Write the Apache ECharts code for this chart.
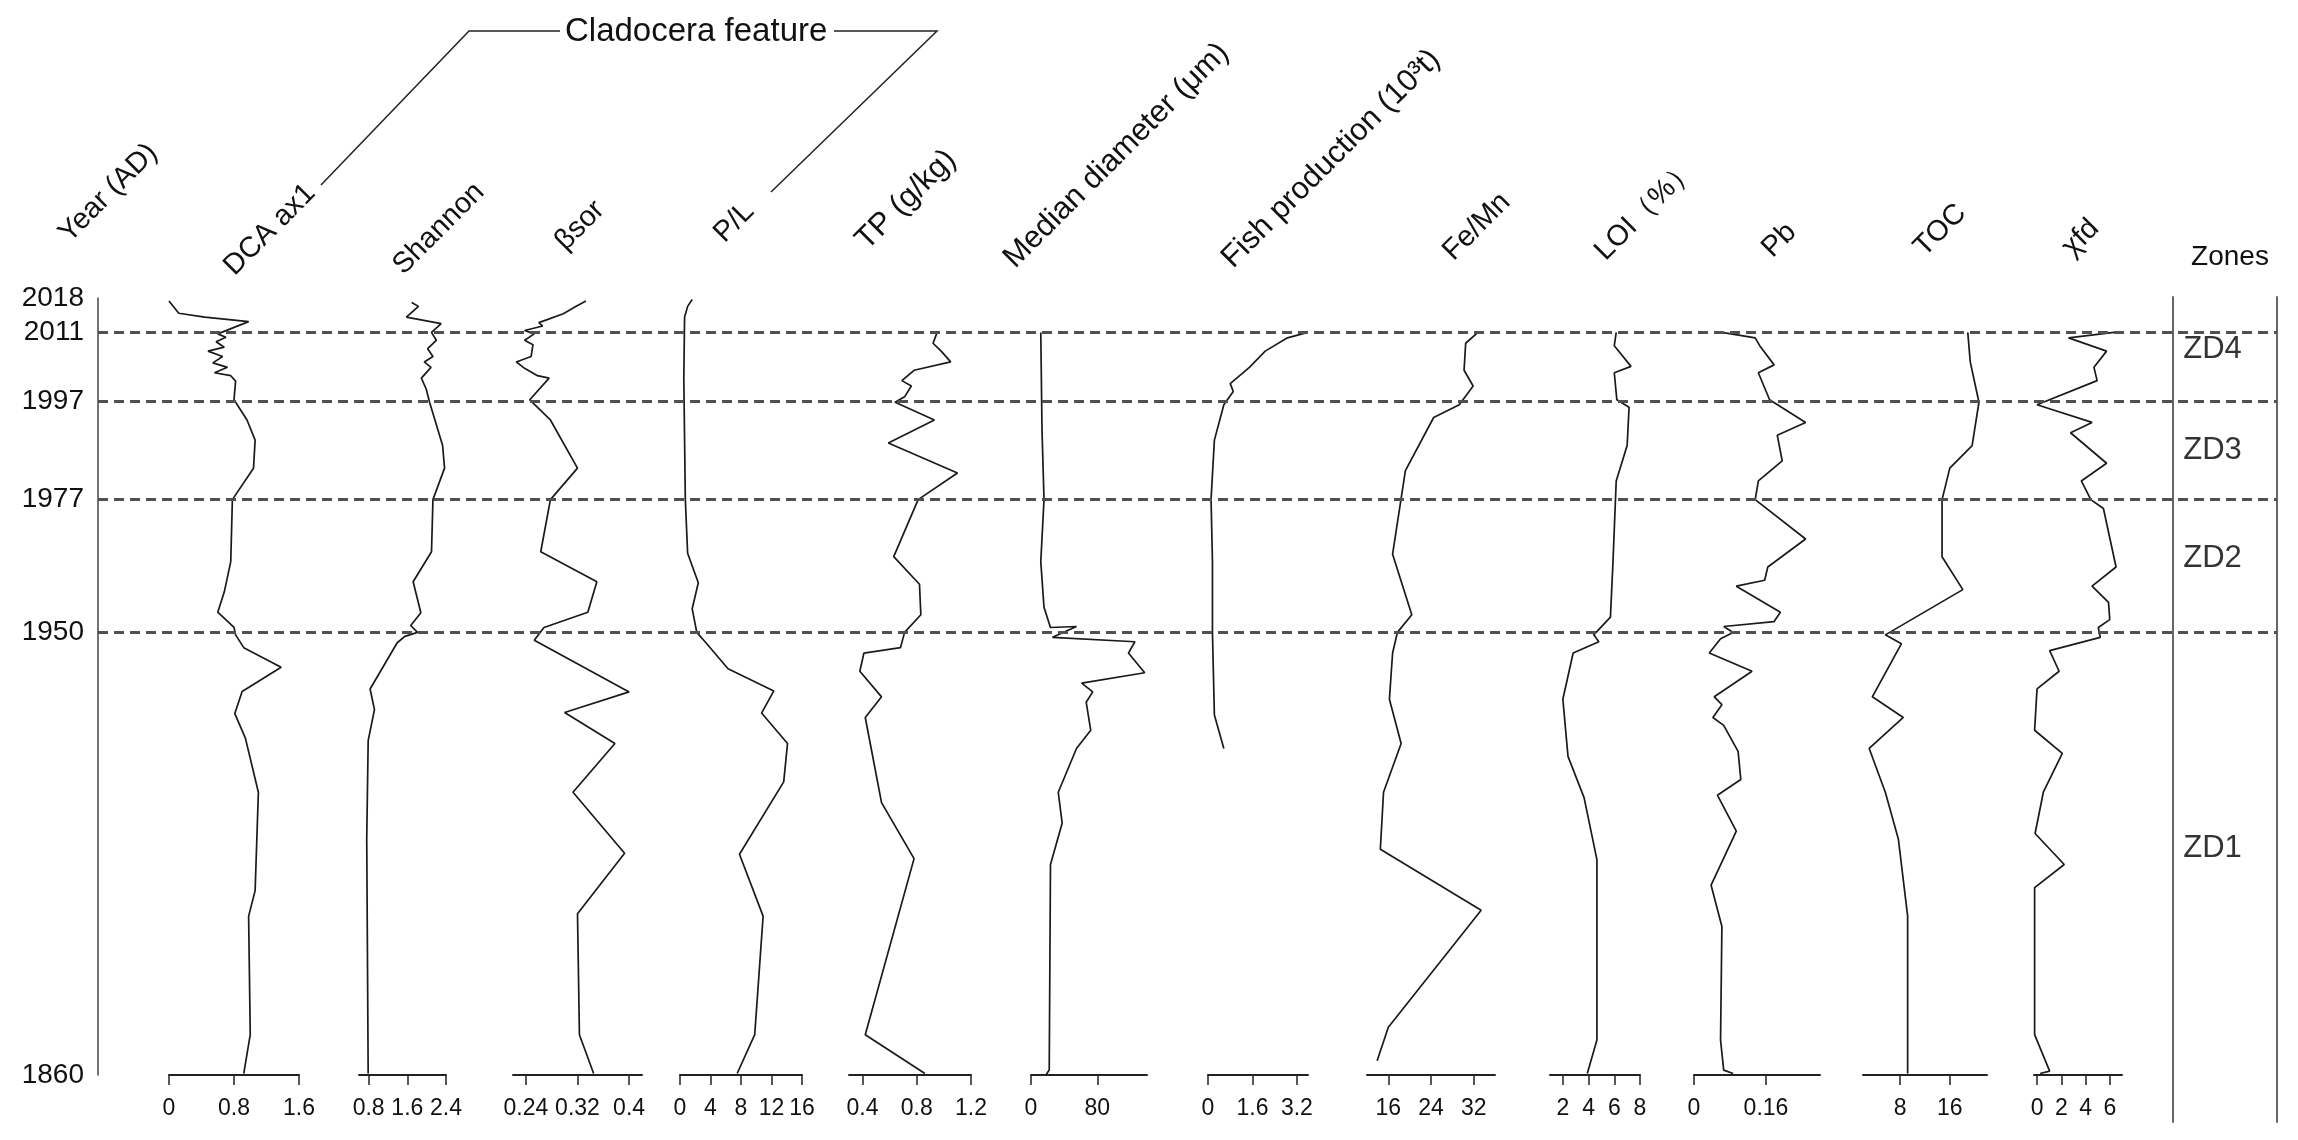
<!DOCTYPE html>
<html>
<head>
<meta charset="utf-8">
<script src="https://cdn.jsdelivr.net/npm/echarts@6/dist/echarts.min.js"></script>
<style>
  html, body { margin: 0; padding: 0; background: #fff; }
  #chart { width: 2298px; height: 1140px; }
</style>
</head>
<body>
<div id="chart"></div>
<script>
(function () {
  "use strict";

  /* ---- Data: [value, year AD] ---- */
  const yearTicks = [1860, 1950, 1977, 1997, 2011, 2018];
  const zoneBounds = [2011, 1997, 1977, 1950];
  const zoneNames = ["ZD4", "ZD3", "ZD2", "ZD1"];
  const zoneLabelYears = [2007.5, 1987, 1965, 1906];

  const dcaAx1 = [[0,2017.4],[0.12,2014.9],[0.44,2014.1],[0.98,2013.2],[0.6,2010.7],[0.7,2010.0],[0.58,2009.1],[0.68,2008.0],[0.48,2007.2],[0.66,2006.1],[0.54,2004.8],[0.72,2003.9],[0.56,2002.8],[0.76,2002.2],[0.82,2001.1],[0.8,1997.3],[0.84,1996.3],[0.96,1993.2],[1.06,1989.1],[1.04,1983.4],[0.78,1977],[0.76,1964.4],[0.68,1958.2],[0.6,1954.1],[0.8,1951.0],[0.82,1949.5],[0.92,1946.9],[1.38,1942.9],[0.9,1938],[0.81,1933.5],[0.94,1928.5],[1.1,1917.5],[1.06,1897.5],[0.98,1892.3],[1.0,1868.2],[0.92,1860.3]];
  const shannon = [[1.69,2017.1],[1.83,2016.3],[1.58,2014.1],[2.3,2012.8],[2.1,2011],[2.2,2009.4],[2.02,2007.7],[2.13,2006.1],[1.95,2005.0],[2.09,2003.9],[1.89,2001.7],[1.99,1999.5],[2.06,1996.8],[2.33,1988.0],[2.37,1983.4],[2.13,1977],[2.1,1966.4],[1.72,1960.3],[1.88,1954.0],[1.67,1951.4],[1.81,1950],[1.55,1949.2],[1.39,1947.9],[0.83,1938.5],[0.92,1934.3],[0.79,1928.0],[0.76,1908],[0.79,1860.3]];
  const betaSor = [[0.333,2017.4],[0.318,2016.3],[0.298,2014.8],[0.273,2013.6],[0.26,2013.0],[0.266,2012.3],[0.238,2011.4],[0.253,2010.7],[0.238,2009.4],[0.251,2008.5],[0.248,2006.1],[0.225,2005.0],[0.238,2003.7],[0.258,2002.2],[0.276,2001.7],[0.246,1997.3],[0.278,1993.2],[0.32,1983.4],[0.278,1977],[0.263,1966.4],[0.35,1960.3],[0.336,1954.1],[0.268,1951.0],[0.253,1948.4],[0.4,1937.9],[0.3,1933.7],[0.378,1927.4],[0.313,1917.5],[0.393,1905.1],[0.32,1892.8],[0.323,1868.2],[0.345,1860.3]];
  const pl = [[1.6,2017.7],[1.0,2016.3],[0.6,2014.1],[0.5,2001.7],[0.7,1977],[1.0,1966.1],[2.4,1960.1],[1.6,1954.8],[2.2,1950],[3.4,1947.9],[6.3,1942.6],[12.3,1938.1],[10.7,1933.6],[14.1,1927.4],[13.6,1919.6],[7.8,1904.9],[10.9,1892.3],[9.8,1868.2],[7.5,1860.3]];
  const tp = [[0.95,2011],[0.92,2008.8],[0.98,2007.2],[1.05,2005.0],[0.78,2003.3],[0.69,2001.2],[0.76,2000.1],[0.71,1997.9],[0.64,1996.8],[0.93,1993.2],[0.59,1988.5],[1.1,1982.4],[0.81,1977],[0.63,1965.4],[0.82,1959.8],[0.83,1953.6],[0.71,1950],[0.68,1946.9],[0.41,1945.8],[0.38,1942.1],[0.54,1936.9],[0.42,1932.7],[0.54,1915.4],[0.78,1904.0],[0.42,1868.2],[0.86,1860.3]];
  const medianDiam = [[11.8,2011],[13.3,1991.1],[15.7,1977],[11.8,1964.4],[15.7,1955.1],[23.5,1951.0],[54.9,1951.2],[25.9,1949.0],[125.4,1948.1],[117.6,1945.8],[137.2,1941.8],[61.2,1939.7],[74.5,1937.9],[66.6,1935.8],[72.1,1930.1],[54.9,1926.4],[32.9,1917.5],[37.6,1911.2],[23.5,1902.8],[22.0,1861],[18,1860]];
  const fishProd = [[3.59,2011],[2.86,2009.9],[2.06,2007.2],[1.49,2003.9],[0.8,2000.6],[0.91,1999.0],[0.57,1996.3],[0.23,1989.1],[0.11,1977],[0.16,1964.4],[0.16,1950],[0.23,1933.2],[0.57,1926.4]];
  const feMn = [[32.8,2011],[30.5,2008.8],[30.2,2003.3],[31.9,2000.1],[29.3,1996.3],[24.5,1993.7],[19.2,1982.9],[16.8,1965.9],[20.4,1953.6],[17.7,1950],[16.8,1945.8],[16.2,1936.4],[18.4,1927.4],[15.1,1917.5],[14.5,1905.9],[33.4,1893.5],[16.0,1869.7],[13.9,1862.9]];
  const loi = [[6.15,2011],[6.0,2008.3],[7.3,2004.1],[6.0,2002.8],[6.2,1997.3],[7.15,1995.8],[7.0,1988.0],[6.15,1980.8],[5.9,1964.4],[5.7,1953.1],[4.4,1949.5],[4.8,1948.1],[2.8,1945.8],[2.0,1936.4],[2.4,1924.8],[3.65,1916.4],[4.65,1903.8],[4.65,1867.1],[3.9,1860.3]];
  const pb = [[0.062,2011],[0.136,2009.9],[0.146,2008.3],[0.178,2004.4],[0.143,2002.8],[0.168,1997.3],[0.248,1992.7],[0.185,1990.1],[0.196,1984.9],[0.143,1980.8],[0.136,1977],[0.248,1969.0],[0.164,1963.3],[0.157,1960.6],[0.094,1959.4],[0.192,1954.1],[0.178,1952.2],[0.066,1951.2],[0.087,1950],[0.059,1948.7],[0.034,1945.8],[0.129,1942.1],[0.045,1936.9],[0.062,1935.3],[0.042,1932.7],[0.066,1931.1],[0.098,1925.8],[0.104,1920.1],[0.052,1916.9],[0.094,1909.6],[0.038,1898.6],[0.062,1890.2],[0.059,1867.1],[0.066,1861.0],[0.087,1860.3]];
  const toc = [[18.9,2011],[19.3,2005.0],[20.7,1996.8],[19.6,1988.0],[16.0,1983.4],[14.75,1977],[14.75,1965.4],[18.1,1958.7],[5.6,1949.5],[8.2,1947.7],[3.5,1936.9],[8.5,1932.7],[3.0,1926.4],[5.6,1917.5],[7.7,1908.0],[9.2,1892.3],[9.2,1860.3]];
  const xfd = [[6.35,2011],[2.6,2009.9],[5.73,2007.2],[4.69,2003.9],[4.95,2001.2],[0.0,1996.3],[4.53,1992.7],[2.76,1990.6],[5.73,1984.4],[3.65,1980.8],[4.43,1977],[5.47,1975.2],[6.51,1963.3],[4.53,1959.4],[5.89,1956.1],[5.99,1952.6],[5.05,1951.0],[5.21,1949.0],[1.04,1946.3],[1.82,1942.1],[0,1938.5],[-0.2,1930.1],[2.08,1925.4],[0.52,1917.5],[-0.16,1909.1],[2.24,1902.8],[-0.2,1898.1],[-0.2,1868.2],[1.04,1860.8],[0.26,1860.3]];

  const panelNames = ["DCA ax1", "Shannon", "βsor", "P/L", "TP (g/kg)", "Median diameter (μm)", "Fish production (10³t)", "Fe/Mn", "LOI（%）", "Pb", "TOC", "χfd"];
  const panelSeries = [dcaAx1, shannon, betaSor, pl, tp, medianDiam, fishProd, feMn, loi, pb, toc, xfd];
  const panelTicks = [[0,0.8,1.6],[0.8,1.6,2.4],[0.24,0.32,0.4],[0,4,8,12,16],[0.4,0.8,1.2],[0,80],[0,1.6,3.2],[16,24,32],[2,4,6,8],[0,0.16],[8,16],[0,2,4,6]];
  const panelRange = [[0,1.6],[0.6,2.4],[0.22,0.42],[0,16],[0.3,1.2],[0,140],[0,3.6],[12,36],[1,8],[0,0.28],[2,22],[-0.25,7]];

  /* ---- Layout ---- */
  const TOP = 298, BOTTOM = 65;
  const FRAME_LEFT = 98, FRAME_RIGHT = 2277;
  const ZONE_LEFT = 2173;
  const panelLeft = [169, 359, 513, 680, 849, 1031, 1208, 1367, 1550, 1694, 1863, 2034];
  const panelWidth = [130, 87, 129, 122, 122, 116, 100, 128, 90, 126, 124, 88];
  const headerAt = [[239,281],[408,280],[570,256],[729,248],[872,256],[1020,274],[1238,274],[1458,266],[1610,266],[1777,263],[1929,262],[2077,262]];
  const headerSize = [29, 29, 29, 29, 31, 31, 31, 29, 29, 29, 29, 29];

  const FONT = "'Liberation Sans', Arial, sans-serif";
  const INK = "#1a1a1a";
  const YEAR_MIN = 1860, YEAR_MAX = 2018;

  const hiddenY = (gi) => ({ type: "value", gridIndex: gi, min: YEAR_MIN, max: YEAR_MAX, show: false });
  const hiddenX = (gi) => ({ type: "value", gridIndex: gi, min: 0, max: 1, show: false });

  const grid = [], xAxis = [], yAxis = [], series = [];

  // frame grid: year axis + zone boundaries
  grid.push({ left: FRAME_LEFT, width: FRAME_RIGHT - FRAME_LEFT, top: TOP, bottom: BOTTOM, outerBoundsMode: "none" });
  xAxis.push(hiddenX(0));
  yAxis.push({
    type: "value", gridIndex: 0, min: YEAR_MIN, max: YEAR_MAX,
    axisLine: { show: true, onZero: false, lineStyle: { color: "#444", width: 1.5 } },
    axisTick: { show: false },
    splitLine: { show: false },
    axisLabel: { customValues: yearTicks, formatter: v => String(v), color: "#111", fontSize: 28, fontFamily: FONT, margin: 14 }
  });
  series.push({
    type: "line", xAxisIndex: 0, yAxisIndex: 0, data: [[0, YEAR_MIN]], showSymbol: false,
    lineStyle: { opacity: 0 }, silent: true, animation: false,
    markLine: {
      silent: true, symbol: ["none", "none"], label: { show: false },
      lineStyle: { color: "#505050", width: 3, type: [10, 6] },
      data: zoneBounds.map(y => ({ yAxis: y }))
    }
  });

  // one grid per profile
  panelSeries.forEach((data, i) => {
    const gi = i + 1;
    grid.push({ left: panelLeft[i], width: panelWidth[i], top: TOP, bottom: BOTTOM, outerBoundsMode: "none" });
    xAxis.push({
      type: "value", gridIndex: gi, min: panelRange[i][0], max: panelRange[i][1],
      axisLine: { show: true, onZero: false, lineStyle: { color: "#222", width: 2 } },
      axisTick: { show: true, customValues: panelTicks[i], length: 10, lineStyle: { color: "#222", width: 1.5 } },
      splitLine: { show: false },
      axisLabel: { customValues: panelTicks[i], formatter: v => String(v), color: "#111", fontSize: 23, fontFamily: FONT, margin: 22 }
    });
    yAxis.push(hiddenY(gi));
    series.push({
      type: "line", name: panelNames[i], xAxisIndex: gi, yAxisIndex: gi, data,
      showSymbol: false, symbol: "none", clip: false, animation: false,
      lineStyle: { color: INK, width: 1.7 }
    });
  });

  // zone labels
  const zg = grid.length;
  grid.push({ left: ZONE_LEFT, width: FRAME_RIGHT - ZONE_LEFT, top: TOP, bottom: BOTTOM, outerBoundsMode: "none" });
  xAxis.push(hiddenX(zg));
  yAxis.push(hiddenY(zg));
  series.push({
    type: "scatter", xAxisIndex: zg, yAxisIndex: zg, symbolSize: 1, animation: false, silent: true,
    itemStyle: { color: "rgba(0,0,0,0)" },
    data: zoneNames.map((n, i) => [0.38, zoneLabelYears[i], n]),
    label: { show: true, position: "inside", formatter: p => p.data[2], color: "#000", fontSize: 31, fontFamily: FONT }
  });

  // zone column separators
  const sg = grid.length;
  grid.push({ left: ZONE_LEFT, width: FRAME_RIGHT - ZONE_LEFT, top: TOP - 1, bottom: 18, outerBoundsMode: "none" });
  xAxis.push(hiddenX(sg));
  ["left", "right"].forEach(pos => yAxis.push({
    type: "value", gridIndex: sg, min: 0, max: 1, position: pos,
    axisLine: { show: true, onZero: false, lineStyle: { color: "#666", width: 2 } },
    axisTick: { show: false }, axisLabel: { show: false }, splitLine: { show: false }
  }));

  /* ---- Headers & bracket ---- */
  const headerText = (text, x, y, size) => ({
    type: "text", x, y, rotation: Math.PI / 4, silent: true,
    style: { text, fontSize: size, fontFamily: FONT, fill: "#111", align: "left", verticalAlign: "bottom" }
  });
  const graphic = [headerText("Year (AD)", 74, 248, 29)];
  panelNames.forEach((n, i) => graphic.push(headerText(n, headerAt[i][0], headerAt[i][1], headerSize[i])));
  graphic.push(
    { type: "polyline", silent: true, shape: { points: [[321, 185], [469, 31], [560, 31]] }, style: { stroke: "#222", lineWidth: 1.5, fill: null } },
    { type: "polyline", silent: true, shape: { points: [[834, 31], [937, 31], [771, 192]] }, style: { stroke: "#222", lineWidth: 1.5, fill: null } },
    { type: "text", x: 565, y: 32, silent: true, style: { text: "Cladocera feature", fontSize: 33, fontFamily: FONT, fill: "#111", align: "left", verticalAlign: "middle" } },
    { type: "text", x: 2230, y: 257, silent: true, style: { text: "Zones", fontSize: 28, fontFamily: FONT, fill: "#111", align: "center", verticalAlign: "middle" } }
  );

  const chart = echarts.init(document.getElementById("chart"), null, { renderer: "canvas" });
  chart.setOption({
    backgroundColor: "#fff",
    animation: false,
    grid, xAxis, yAxis, series, graphic
  });
})();
</script>
</body>
</html>
